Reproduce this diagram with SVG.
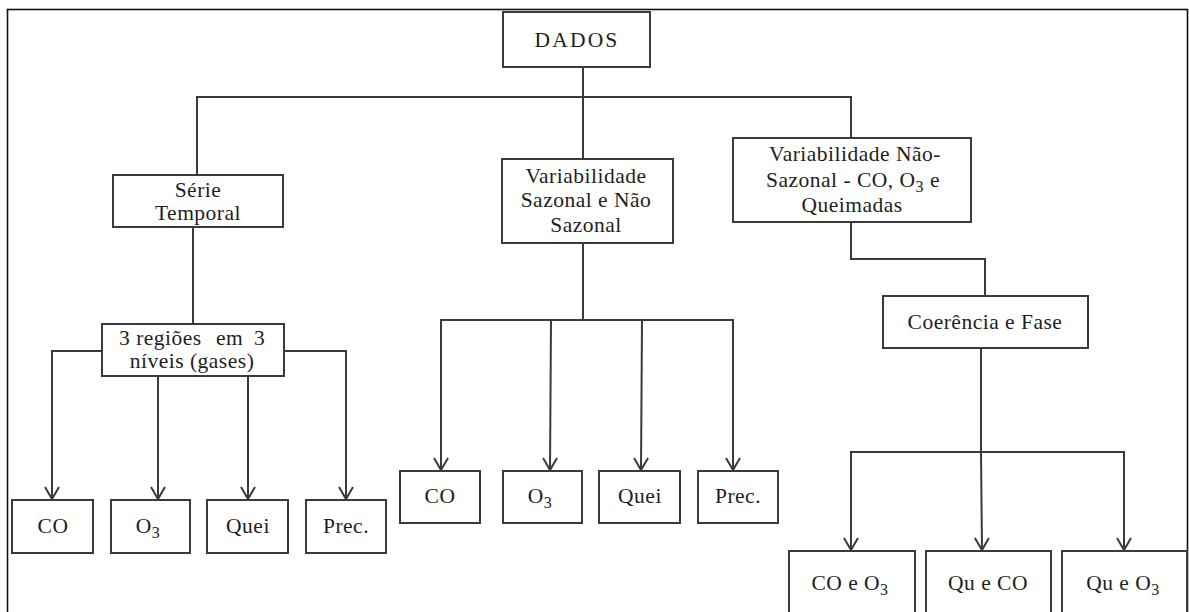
<svg xmlns="http://www.w3.org/2000/svg" width="1189" height="612" viewBox="0 0 1189 612">
<style>
.box{fill:#fff;stroke:#3a3a3a;stroke-width:2}
.ln{fill:none;stroke:#3a3a3a;stroke-width:2}
.t{font-family:"Liberation Serif","Times New Roman",serif;font-size:21.5px;fill:#1e1e1e;text-anchor:middle;letter-spacing:0.5px}
.sub{font-size:16px}
</style>
<defs>
<marker id="arr" markerUnits="userSpaceOnUse" markerWidth="30" markerHeight="30" refX="0" refY="0" orient="auto" viewBox="-15 -15 30 30" overflow="visible">
<path d="M-12,-7 L0,0 L-12,7" fill="none" stroke="#3a3a3a" stroke-width="2"/>
</marker>
</defs>
<rect x="0" y="0" width="1189" height="612" fill="#fff"/>
<rect x="7.5" y="9.5" width="1180" height="640" fill="none" stroke="#111" stroke-width="1.6"/>

<g id="connectors">
<line class="ln" x1="583" y1="67" x2="583" y2="159"/>
<polyline class="ln" points="197,175 197,97 851,97 851,138"/>
<line class="ln" x1="193" y1="227" x2="193" y2="324"/>
<polyline class="ln" points="102,351 52,351 52,499" marker-end="url(#arr)"/>
<polyline class="ln" points="284,351 346,351 346,499" marker-end="url(#arr)"/>
<line class="ln" x1="158" y1="376" x2="158" y2="499" marker-end="url(#arr)"/>
<line class="ln" x1="248" y1="376" x2="248" y2="499" marker-end="url(#arr)"/>
<line class="ln" x1="583" y1="243" x2="583" y2="320"/>
<polyline class="ln" points="441,470 441,320 733,320 733,470" marker-end="url(#arr)"/>
<line class="ln" x1="551" y1="320" x2="550" y2="470" marker-end="url(#arr)"/>
<line class="ln" x1="642" y1="320" x2="641" y2="470" marker-end="url(#arr)"/>
<line class="ln" x1="441" y1="320" x2="441" y2="470" marker-end="url(#arr)"/>
<polyline class="ln" points="851,222 851,259 985,259 985,296"/>
<line class="ln" x1="981" y1="348" x2="981" y2="452"/>
<polyline class="ln" points="851,550 851,452 1124,452 1124,550" marker-end="url(#arr)"/>
<line class="ln" x1="851" y1="452" x2="851" y2="550" marker-end="url(#arr)"/>
<line class="ln" x1="981" y1="452" x2="982" y2="550" marker-end="url(#arr)"/>
</g>

<g id="dados">
<rect class="box" x="503" y="12" width="147" height="55"/>
<text class="t" x="577" y="47" style="letter-spacing:2.2px">DADOS</text>
</g>

<g id="serie-temporal">
<rect class="box" x="113" y="175" width="170" height="52"/>
<text class="t" x="198" y="197">Série</text>
<text class="t" x="198" y="220">Temporal</text>
</g>

<g id="var-sazonal">
<rect class="box" x="502" y="159" width="171" height="84"/>
<text class="t" x="586" y="183">Variabilidade</text>
<text class="t" x="586" y="207">Sazonal e Não</text>
<text class="t" x="586" y="232">Sazonal</text>
</g>

<g id="var-nao-sazonal">
<rect class="box" x="733" y="138" width="238" height="84"/>
<text class="t" x="855" y="161">Variabilidade Não-</text>
<text class="t" x="853" y="187">Sazonal - CO, O<tspan class="sub" dy="5">3</tspan><tspan dy="-5"> e</tspan></text>
<text class="t" x="852" y="212">Queimadas</text>
</g>

<g id="tres-regioes">
<rect class="box" x="102" y="324" width="182" height="52"/>
<text class="t" y="345" style="text-anchor:start"><tspan x="119">3 regiões </tspan><tspan x="216">em </tspan><tspan x="254">3</tspan></text>
<text class="t" x="192" y="368">níveis (gases)</text>
</g>

<g id="coerencia">
<rect class="box" x="883" y="296" width="205" height="52"/>
<text class="t" x="985" y="329">Coerência e Fase</text>
</g>

<g id="st-co">
<rect class="box" x="12" y="500" width="81" height="53"/>
<text class="t" x="53" y="533">CO</text>
</g>
<g id="st-o3">
<rect class="box" x="111" y="500" width="79" height="53"/>
<text class="t" x="148" y="533">O<tspan class="sub" dy="5">3</tspan></text>
</g>
<g id="st-quei">
<rect class="box" x="207" y="500" width="81" height="53"/>
<text class="t" x="248" y="533">Quei</text>
</g>
<g id="st-prec">
<rect class="box" x="306" y="500" width="80" height="53"/>
<text class="t" x="346" y="533">Prec.</text>
</g>

<g id="vs-co">
<rect class="box" x="400" y="471" width="80" height="52"/>
<text class="t" x="440" y="503">CO</text>
</g>
<g id="vs-o3">
<rect class="box" x="503" y="471" width="79" height="52"/>
<text class="t" x="540" y="503">O<tspan class="sub" dy="5">3</tspan></text>
</g>
<g id="vs-quei">
<rect class="box" x="599" y="471" width="81" height="52"/>
<text class="t" x="640" y="503">Quei</text>
</g>
<g id="vs-prec">
<rect class="box" x="698" y="471" width="80" height="52"/>
<text class="t" x="738" y="503">Prec.</text>
</g>

<g id="cf-co-o3">
<rect class="box" x="789" y="551" width="126" height="80"/>
<text class="t" x="850" y="590">CO e O<tspan class="sub" dy="5">3</tspan></text>
</g>
<g id="cf-qu-co">
<rect class="box" x="926" y="551" width="125" height="80"/>
<text class="t" x="988" y="590">Qu e CO</text>
</g>
<g id="cf-qu-o3">
<rect class="box" x="1062" y="551" width="125" height="80"/>
<text class="t" x="1123" y="590">Qu e O<tspan class="sub" dy="5">3</tspan></text>
</g>
</svg>
